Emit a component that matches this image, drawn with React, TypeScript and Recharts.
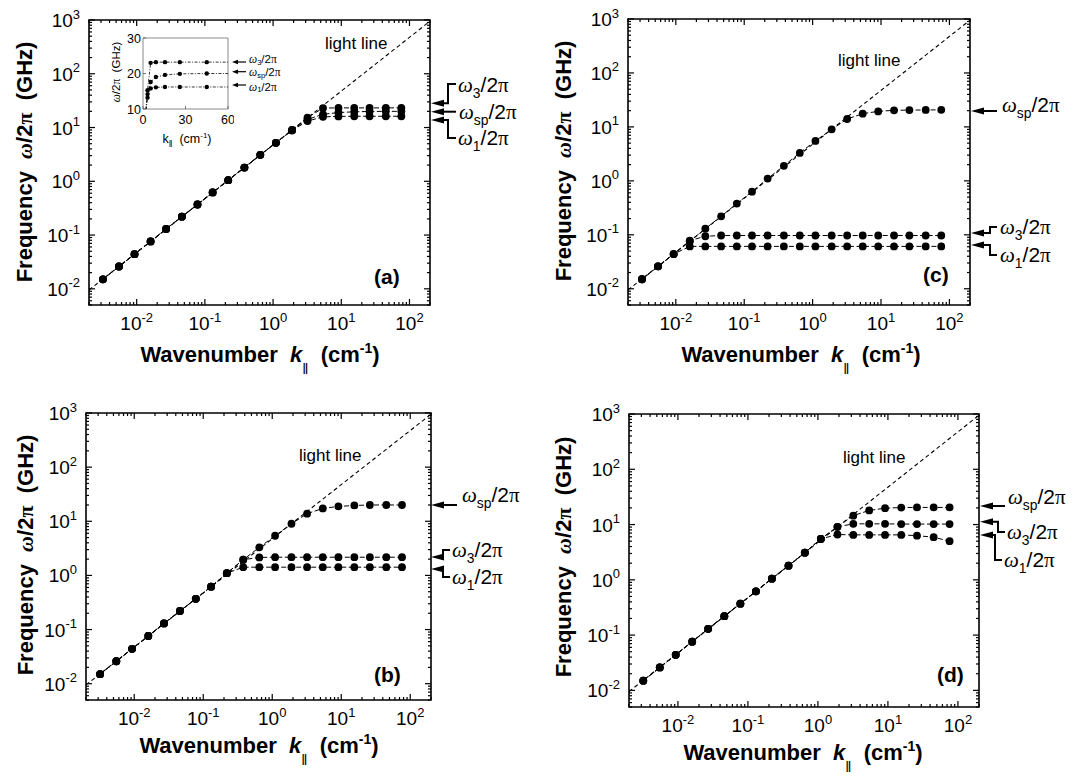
import React from 'react';
import { ComposedChart, Line, XAxis, YAxis, ReferenceArea } from 'recharts';

const SANS = '"Liberation Sans", Arial, Helvetica, sans-serif';
const SERIF = '"Liberation Serif", "Times New Roman", serif';

// wavenumber samples (cm^-1), shared by every panel
const K = [0.0032, 0.0055, 0.0093, 0.016, 0.027, 0.046, 0.078, 0.13, 0.22, 0.38, 0.65, 1.1, 1.9, 3.2, 5.4, 9.1, 15.5, 26, 45, 76];

// light line end points
const LIGHT_K = [0.002, 200];
const LIGHT_F = [0.0095, 950];

const X_MAJOR = [0.01, 0.1, 1, 10, 100];
const X_LABELS = ['-2', '-1', '0', '1', '2'];
const Y_MAJOR = [0.01, 0.1, 1, 10, 100, 1000];
const Y_LABELS = ['-2', '-1', '0', '1', '2', '3'];
const X_DOMAIN = [0.002, 200];
const Y_DOMAIN = [0.005, 1000];

// (a)
const A_W3 = [0.015, 0.026, 0.044, 0.076, 0.13, 0.22, 0.37, 0.62, 1.05, 1.8, 3.1, 5.2, 9.0, 15.3, 23.0, 23.2, 23.2, 23.2, 23.2, 23.2];
const A_SP = [0.015, 0.026, 0.044, 0.076, 0.13, 0.22, 0.37, 0.62, 1.05, 1.8, 3.1, 5.2, 9.0, 14.2, 17.6, 19.0, 19.6, 19.9, 20.0, 20.0];
const A_W1 = [0.015, 0.026, 0.044, 0.076, 0.13, 0.22, 0.37, 0.62, 1.05, 1.8, 3.1, 5.2, 8.8, 13.2, 15.8, 16.1, 16.2, 16.2, 16.2, 16.2];

// (b)
const B_SP = [0.015, 0.026, 0.044, 0.076, 0.13, 0.22, 0.37, 0.62, 1.1, 1.95, 3.3, 5.4, 9.0, 13.8, 17.3, 18.8, 19.6, 20.0, 20.0, 20.0];
const B_W3 = [0.015, 0.026, 0.044, 0.076, 0.13, 0.22, 0.37, 0.62, 1.1, 1.95, 2.15, 2.17, 2.17, 2.17, 2.17, 2.17, 2.17, 2.17, 2.17, 2.17];
const B_W1 = [0.015, 0.026, 0.044, 0.076, 0.13, 0.22, 0.37, 0.62, 1.1, 1.42, 1.42, 1.42, 1.42, 1.42, 1.42, 1.42, 1.42, 1.42, 1.42, 1.42];

// (c)
const C_SP = [0.015, 0.026, 0.044, 0.076, 0.13, 0.22, 0.38, 0.63, 1.1, 1.9, 3.3, 5.5, 9.0, 14.0, 17.6, 19.4, 20.3, 20.5, 20.6, 20.7];
const C_W3 = [0.015, 0.026, 0.044, 0.078, 0.094, 0.097, 0.097, 0.097, 0.097, 0.097, 0.097, 0.097, 0.097, 0.097, 0.097, 0.097, 0.097, 0.097, 0.097, 0.097];
const C_W1 = [0.015, 0.026, 0.044, 0.061, 0.061, 0.061, 0.061, 0.061, 0.061, 0.061, 0.061, 0.061, 0.061, 0.061, 0.061, 0.061, 0.061, 0.061, 0.061, 0.061];

// (d)
const D_SP = [0.015, 0.026, 0.044, 0.076, 0.13, 0.22, 0.37, 0.62, 1.05, 1.8, 3.1, 5.5, 9.1, 14.5, 18.0, 19.8, 20.3, 20.4, 20.4, 20.4];
const D_W3 = [0.015, 0.026, 0.044, 0.076, 0.13, 0.22, 0.37, 0.62, 1.05, 1.8, 3.1, 5.5, 9.1, 10.3, 10.3, 10.3, 10.2, 10.2, 10.2, 10.2];
const D_W1 = [0.015, 0.026, 0.044, 0.076, 0.13, 0.22, 0.37, 0.62, 1.05, 1.8, 3.1, 5.5, 6.6, 6.5, 6.5, 6.5, 6.5, 6.3, 5.9, 5.0];

const INSET_X_TICKS = [0, 30, 60];
const INSET_Y_TICKS = [10, 20, 30];

function minorTicks(major: number[], lo: number, hi: number) {
  const out: number[] = [];
  [major[0] / 10, ...major].forEach((d) => {
    for (let m = 2; m <= 9; m++) {
      const v = +(d * m).toPrecision(3);
      if (v >= lo && v <= hi) out.push(v);
    }
  });
  return out;
}
const X_ALL = [...X_MAJOR, ...minorTicks(X_MAJOR, X_DOMAIN[0], X_DOMAIN[1])].sort((a, b) => a - b);
const Y_ALL = [...Y_MAJOR, ...minorTicks(Y_MAJOR, Y_DOMAIN[0], Y_DOMAIN[1])].sort((a, b) => a - b);

const pts = (vals: number[]) => K.map((k, i) => ({ k, f: vals[i] }));
const LIGHT = LIGHT_K.map((k, i) => ({ k, f: LIGHT_F[i] }));

const dotR = (r: number) => (p: any) =>
  p.cx == null || p.cy == null ? <g key={`d${p.index}`} /> : <circle key={`d${p.index}`} cx={p.cx} cy={p.cy} r={r} fill="#000" />;

const makeXTick = (h: number) => (p: any) => {
  const { x, y, payload } = p;
  const i = X_MAJOR.indexOf(payload.value);
  const len = i >= 0 ? 6 : 3;
  return (
    <g>
      <line x1={x} y1={y} x2={x} y2={y - len} stroke="#000" strokeWidth={1.2} />
      <line x1={x} y1={y - h} x2={x} y2={y - h + len} stroke="#000" strokeWidth={1.2} />
      {i >= 0 && (
        <text x={x} y={y + 25} textAnchor="middle" fontFamily={SANS} fontSize={19} fill="#000">
          10<tspan fontSize={13} dy={-8.5}>{X_LABELS[i]}</tspan>
        </text>
      )}
    </g>
  );
};

const makeYTick = (w: number) => (p: any) => {
  const { x, y, payload } = p;
  const i = Y_MAJOR.indexOf(payload.value);
  const len = i >= 0 ? 6 : 3;
  return (
    <g>
      <line x1={x} y1={y} x2={x + len} y2={y} stroke="#000" strokeWidth={1.2} />
      <line x1={x + w} y1={y} x2={x + w - len} y2={y} stroke="#000" strokeWidth={1.2} />
      {i >= 0 && (
        <text x={x - 9} y={y + 7} textAnchor="end" fontFamily={SANS} fontSize={19} fill="#000">
          10<tspan fontSize={13} dy={-8.5}>{Y_LABELS[i]}</tspan>
        </text>
      )}
    </g>
  );
};

function LogPanel({ left, top, w, h, series }: { left: number; top: number; w: number; h: number; series: number[][] }) {
  const YW = 62, XH = 44, MT = 16, MR = 12;
  return (
    <div style={{ position: 'absolute', left: left - YW, top: top - MT }}>
      <ComposedChart width={YW + w + MR} height={MT + h + XH} margin={{ top: MT, right: MR, left: 0, bottom: 0 }}>
        <XAxis dataKey="k" type="number" scale="log" domain={X_DOMAIN} allowDataOverflow ticks={X_ALL} interval={0}
          axisLine={false} tickLine={false} tickSize={0} tickMargin={0} height={XH} tick={makeXTick(h)} />
        <YAxis type="number" scale="log" domain={Y_DOMAIN} allowDataOverflow ticks={Y_ALL} interval={0}
          axisLine={false} tickLine={false} tickSize={0} tickMargin={0} width={YW} tick={makeYTick(w)} />
        <ReferenceArea x1={X_DOMAIN[0]} x2={X_DOMAIN[1]} y1={Y_DOMAIN[0]} y2={Y_DOMAIN[1]} fill="none" stroke="#000" strokeWidth={1.6} />
        <Line data={LIGHT} dataKey="f" stroke="#000" strokeWidth={1.1} strokeDasharray="4 3" dot={false} activeDot={false} isAnimationActive={false} />
        {series.map((s, i) => (
          <Line key={i} data={pts(s)} dataKey="f" stroke="#000" strokeWidth={1} strokeDasharray="5 2.5"
            dot={dotR(3.9)} activeDot={false} isAnimationActive={false} />
        ))}
      </ComposedChart>
    </div>
  );
}

const insetXTick = (p: any) => {
  const { x, y, payload } = p;
  return (
    <g>
      <line x1={x} y1={y} x2={x} y2={y - 3} stroke="#555" strokeWidth={0.8} />
      <text x={x} y={y + 15} textAnchor="middle" fontFamily={SANS} fontSize={12.5} fill="#000">{payload.value}</text>
    </g>
  );
};
const insetYTick = (p: any) => {
  const { x, y, payload } = p;
  return (
    <g>
      <line x1={x} y1={y} x2={x + 3} y2={y} stroke="#555" strokeWidth={0.8} />
      <text x={x - 2} y={y + 4.5} textAnchor="end" fontFamily={SANS} fontSize={12.5} fill="#000">{payload.value}</text>
    </g>
  );
};

function Inset({ left, top, w, h }: { left: number; top: number; w: number; h: number }) {
  const YW = 30, XH = 20, MT = 8, MR = 6;
  return (
    <div style={{ position: 'absolute', left: left - YW, top: top - MT }}>
      <ComposedChart width={YW + w + MR} height={MT + h + XH} margin={{ top: MT, right: MR, left: 0, bottom: 0 }}>
        <XAxis dataKey="k" type="number" domain={[0, 60]} allowDataOverflow ticks={INSET_X_TICKS} interval={0}
          axisLine={false} tickLine={false} tickSize={0} tickMargin={0} height={XH} tick={insetXTick} />
        <YAxis type="number" domain={[10, 30]} allowDataOverflow ticks={INSET_Y_TICKS} interval={0}
          axisLine={false} tickLine={false} tickSize={0} tickMargin={0} width={YW} tick={insetYTick} />
        <ReferenceArea x1={0} x2={60} y1={10} y2={30} fill="none" stroke="#8a8a8a" strokeWidth={1} />
        {[A_W3, A_SP, A_W1].map((s, i) => (
          <Line key={i} data={pts(s)} dataKey="f" stroke="#222" strokeWidth={0.9} strokeDasharray="3 1.5 1 1.5"
            dot={dotR(2.2)} activeDot={false} isAnimationActive={false} />
        ))}
      </ComposedChart>
    </div>
  );
}

function OmegaLabel({ x, y, sub, size = 21, drop = 0.3 }: { x: number; y: number; sub: string; size?: number; drop?: number }) {
  return (
    <text x={x} y={y + size * 0.33} fontFamily={SANS} fontSize={size} fill="#000">
      <tspan fontFamily={SERIF} fontStyle="italic">ω</tspan>
      <tspan fontSize={size * 0.66} dy={size * drop}>{sub}</tspan>
      <tspan dy={-size * drop}>/2</tspan>
      <tspan fontFamily={SERIF}>π</tspan>
    </text>
  );
}

function Pointer({ x, y, bx, ty, ex, head = 13, hw = 3.5, sw = 2 }: { x: number; y: number; bx: number; ty?: number; ex?: number; head?: number; hw?: number; sw?: number }) {
  const line = ty === undefined ? `${x + head - 1},${y} ${bx},${y}` : `${x + head - 1},${y} ${bx},${y} ${bx},${ty} ${ex},${ty}`;
  return (
    <g>
      <polyline points={line} fill="none" stroke="#000" strokeWidth={sw} />
      <polygon points={`${x},${y} ${x + head},${y - hw} ${x + head},${y + hw}`} fill="#000" />
    </g>
  );
}

function YTitle({ x, y }: { x: number; y: number }) {
  return (
    <text transform={`translate(${x},${y}) rotate(-90)`} textAnchor="middle" dominantBaseline="central"
      fontFamily={SANS} fontSize={22} fontWeight="bold" fill="#000">
      Frequency{'\u00a0\u00a0'}
      <tspan fontFamily={SERIF} fontStyle="italic">ω</tspan>/2<tspan fontFamily={SERIF}>π</tspan>{'\u00a0\u00a0'}(GHz)
    </text>
  );
}

function XTitle({ x, y }: { x: number; y: number }) {
  return (
    <text x={x} y={y} textAnchor="middle" fontFamily={SANS} fontSize={22} fontWeight="bold" fill="#000">
      Wavenumber{'\u00a0\u00a0'}<tspan fontStyle="italic">k</tspan>
      <tspan fontSize={15} dy={12} fontWeight="normal">‖</tspan>
      <tspan dy={-12}>{'\u00a0\u00a0'}(cm</tspan>
      <tspan fontSize={14} dy={-9}>-1</tspan>
      <tspan dy={9}>)</tspan>
    </text>
  );
}

function Note({ x, y, text }: { x: number; y: number; text: string }) {
  return <text x={x} y={y} fontFamily={SANS} fontSize={17} fill="#000">{text}</text>;
}
function Letter({ x, y, text }: { x: number; y: number; text: string }) {
  return <text x={x} y={y} fontFamily={SANS} fontSize={21} fontWeight="bold" fill="#000">{text}</text>;
}

export default function App() {
  return (
    <div style={{ position: 'absolute', left: 0, top: 0, width: 1073, height: 780, background: '#fff', overflow: 'hidden' }}>
      <LogPanel left={89} top={20} w={341} h={285} series={[A_W3, A_SP, A_W1]} />
      <LogPanel left={628} top={19} w={342} h={286} series={[C_SP, C_W3, C_W1]} />
      <LogPanel left={86} top={413} w={345} h={287} series={[B_SP, B_W3, B_W1]} />
      <LogPanel left={629} top={414} w={350} h={293} series={[D_SP, D_W3, D_W1]} />
      <Inset left={143} top={38} w={85} h={71} />
      <svg width={1073} height={780} style={{ position: 'absolute', left: 0, top: 0, pointerEvents: 'none' }}>
        {/* axis titles */}
        <YTitle x={24} y={162} />
        <YTitle x={563} y={161} />
        <YTitle x={25} y={555} />
        <YTitle x={563} y={557} />
        <XTitle x={260} y={362} />
        <XTitle x={801} y={362} />
        <XTitle x={259} y={753} />
        <XTitle x={803} y={760} />

        <Note x={325} y={49} text="light line" />
        <Note x={838} y={66} text="light line" />
        <Note x={299} y={461} text="light line" />
        <Note x={843} y={463} text="light line" />

        <Letter x={374} y={284} text="(a)" />
        <Letter x={923} y={282} text="(c)" />
        <Letter x={374} y={682} text="(b)" />
        <Letter x={937} y={682} text="(d)" />

        {/* (a) */}
        <Pointer x={431} y={103.3} bx={448} ty={84} ex={456} />
        <Pointer x={431} y={111.7} bx={456} />
        <Pointer x={431} y={120} bx={448} ty={138} ex={456} />
        <OmegaLabel x={458} y={85} sub="3" />
        <OmegaLabel x={459} y={112} sub="sp" />
        <OmegaLabel x={458} y={138} sub="1" />

        {/* inset */}
        <text transform="translate(116,72) rotate(-90)" textAnchor="middle" dominantBaseline="central" fontFamily={SANS} fontSize={11.5} fill="#000">
          <tspan fontFamily={SERIF} fontStyle="italic">ω</tspan>/2<tspan fontFamily={SERIF}>π</tspan>{'\u00a0\u00a0'}(GHz)
        </text>
        <text x={187} y={143} textAnchor="middle" fontFamily={SANS} fontSize={12.5} fill="#000">
          k<tspan fontSize={9} dy={4}>‖</tspan><tspan dy={-4}>{'\u00a0\u00a0'}(cm</tspan><tspan fontSize={8} dy={-5}>-1</tspan><tspan dy={5}>)</tspan>
        </text>
        <Pointer x={232} y={62} bx={246} head={6} hw={2.2} sw={1.2} />
        <Pointer x={232} y={71.7} bx={246} head={6} hw={2.2} sw={1.2} />
        <Pointer x={232} y={85} bx={246} head={6} hw={2.2} sw={1.2} />
        <OmegaLabel x={249} y={59.5} sub="3" size={11.5} drop={0.14} />
        <OmegaLabel x={249} y={72.5} sub="sp" size={11.5} drop={0.14} />
        <OmegaLabel x={249} y={87} sub="1" size={11.5} drop={0.14} />

        {/* (c) */}
        <Pointer x={971} y={111} bx={997} />
        <Pointer x={971} y={233} bx={990} ty={227} ex={997} />
        <Pointer x={971} y={245} bx={990} ty={255} ex={997} />
        <OmegaLabel x={1002} y={105} sub="sp" />
        <OmegaLabel x={1000} y={227} sub="3" />
        <OmegaLabel x={1000} y={255} sub="1" />

        {/* (b) */}
        <Pointer x={431} y={505} bx={457} />
        <Pointer x={431} y={557} bx={443} ty={550} ex={450} />
        <Pointer x={431} y={569} bx={443} ty={577} ex={450} />
        <OmegaLabel x={462} y={495} sub="sp" />
        <OmegaLabel x={452} y={550} sub="3" />
        <OmegaLabel x={452} y={577} sub="1" />

        {/* (d) */}
        <Pointer x={980} y={506} bx={1005} />
        <Pointer x={980} y={521.7} bx={998} ty={532} ex={1005} />
        <Pointer x={980} y={535} bx={995} ty={560} ex={1002} />
        <OmegaLabel x={1008} y={497} sub="sp" />
        <OmegaLabel x={1007} y={532} sub="3" />
        <OmegaLabel x={1004} y={560} sub="1" />
      </svg>
    </div>
  );
}
